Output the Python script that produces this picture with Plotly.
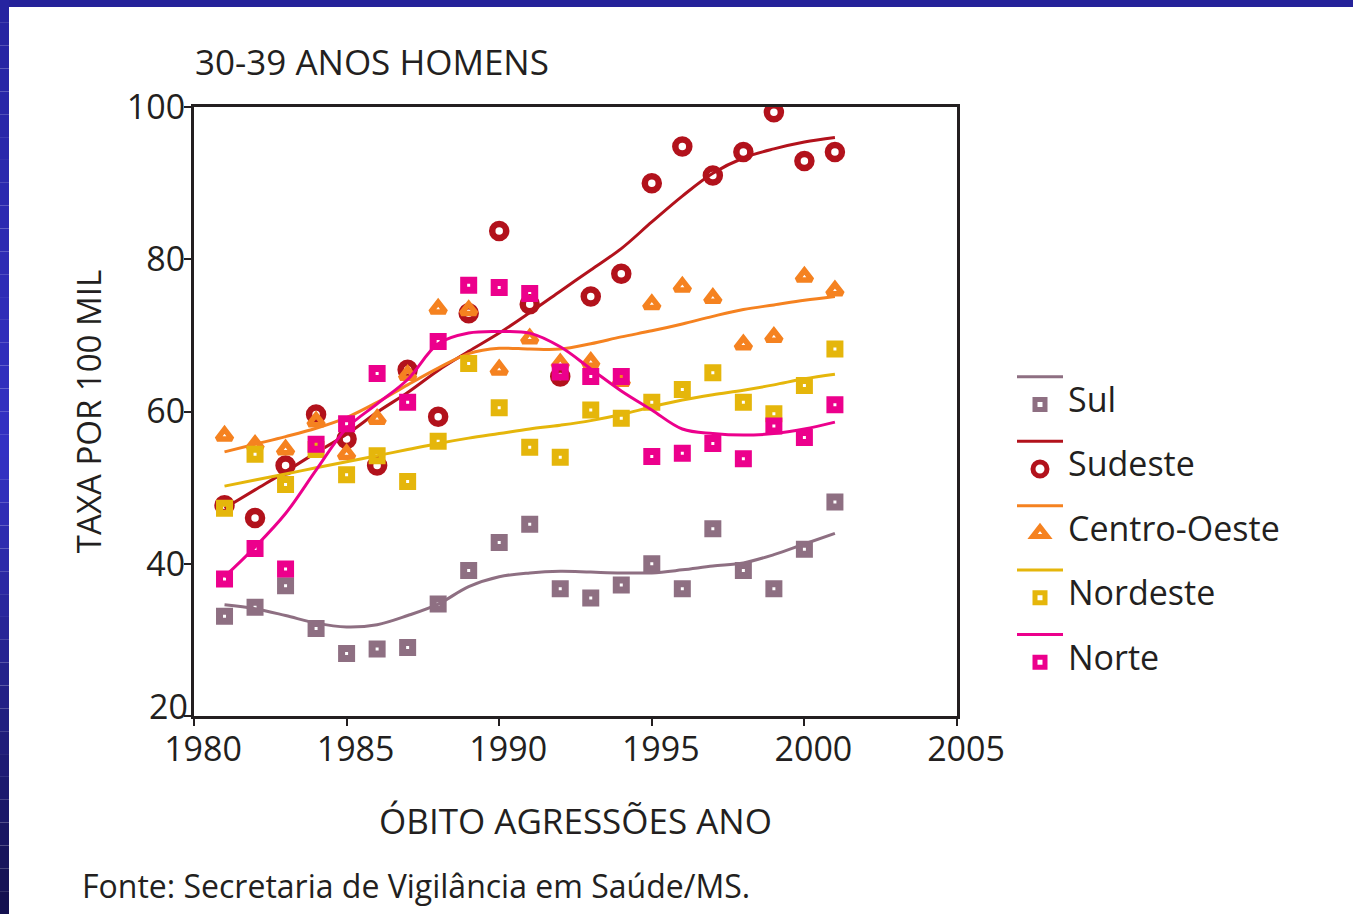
import plotly.graph_objects as go

# ---------------- data ----------------
years = list(range(1981, 2002))

sul_pts = [33.1, 34.3, 37.1, 31.5, 28.2, 28.8, 29.0, 34.7, 39.1, 42.8, 45.2,
           36.7, 35.5, 37.2, 40.0, 36.7, 44.6, 39.1, 36.7, 41.9, 48.1]
sul_fit = [34.6, 34.1, 33.2, 32.2, 31.7, 32.0, 33.2, 34.7, 37.0, 38.3, 38.8,
           39.0, 38.9, 38.8, 38.8, 39.2, 39.7, 40.1, 41.2, 42.6, 44.0]

sudeste_pts = [47.7, 46.0, 52.9, 59.6, 56.4, 52.9, 65.5, 59.3, 72.9, 83.7, 74.1,
               64.6, 75.1, 78.1, 90.0, 94.8, 91.0, 94.1, 99.3, 92.9, 94.1]
sudeste_fit = [47.3, 49.7, 52.1, 54.6, 57.0, 59.9, 62.5, 65.4, 67.9, 70.3, 73.0,
               75.8, 78.6, 81.4, 84.9, 88.3, 91.3, 93.3, 94.5, 95.4, 96.0]

centro_pts = [56.8, 55.6, 55.0, 58.7, 54.4, 59.0, 64.8, 73.5, 73.3, 65.5, 69.6,
              66.3, 66.5, 64.0, 74.1, 76.4, 74.9, 68.8, 69.8, 77.7, 75.9]
centro_fit = [54.7, 55.7, 56.7, 57.8, 59.2, 61.2, 63.5, 65.7, 67.6, 68.3, 68.2,
              68.2, 68.9, 69.8, 70.6, 71.5, 72.5, 73.4, 74.0, 74.6, 75.1]

nordeste_pts = [47.3, 54.4, 50.4, 55.0, 51.7, 54.2, 50.8, 56.1, 66.3, 60.5, 55.3,
                54.0, 60.2, 59.1, 61.2, 62.9, 65.1, 61.2, 59.7, 63.4, 68.2]
nordeste_fit = [50.2, 51.0, 51.8, 52.6, 53.4, 54.2, 55.0, 55.8, 56.5, 57.1, 57.7,
                58.2, 58.8, 59.6, 60.6, 61.5, 62.2, 62.8, 63.5, 64.3, 64.9]

norte_pts = [38.0, 42.0, 39.3, 55.7, 58.4, 65.0, 61.2, 69.2, 76.6, 76.3, 75.5,
             65.2, 64.6, 64.6, 54.1, 54.5, 55.8, 53.8, 58.1, 56.6, 60.9]
norte_fit = [38.3, 42.2, 46.6, 52.3, 57.8, 61.0, 64.2, 68.9, 70.3, 70.5, 70.3,
             68.5, 65.6, 62.7, 60.2, 57.7, 57.1, 56.9, 57.1, 57.7, 58.6]

region_names = ["Sul", "Sudeste", "Centro-Oeste", "Nordeste", "Norte"]
x_ticks = [1980, 1985, 1990, 1995, 2000, 2005]
y_ticks = [20, 40, 60, 80, 100]
y_ticktext = ["", "40", "60", "80", "100"]   # "20" is drawn slightly raised below

# ---------------- style ----------------
TXT = "#231f20"
FONT = "Open Sans"
colors = ["#8e6f82", "#b2121c", "#f58220", "#e5b60b", "#ec008c"]
markers = [
    dict(symbol="square-open", size=10, line=dict(width=7)),
    dict(symbol="circle-open", size=14, line=dict(width=6.5)),
    dict(symbol="triangle-up-open", size=13, line=dict(width=5.5)),
    dict(symbol="square-open", size=10, line=dict(width=7)),
    dict(symbol="square-open", size=10, line=dict(width=7)),
]
points = [sul_pts, sudeste_pts, centro_pts, nordeste_pts, norte_pts]
fits = [sul_fit, sudeste_fit, centro_fit, nordeste_fit, norte_fit]

fig = go.Figure()
for name, col, mk, pts, fit in zip(region_names, colors, markers, points, fits):
    fig.add_trace(go.Scatter(
        x=years, y=fit, mode="lines", name=" ", legendgroup=name,
        line=dict(color=col, width=3, shape="spline", smoothing=1.0),
        hoverinfo="skip"))
    m = dict(mk)
    m["color"] = col
    m["line"] = dict(mk["line"], color=col)
    fig.add_trace(go.Scatter(
        x=years, y=pts, mode="markers", legendgroup=name,
        name=f"<span style='font-size:34px'>{name}</span>",
        marker=m))

# plot area geometry (pixels) used for decorations
L, R, T, B = 194, 957, 107, 716
W, H = 1353, 914
pw, ph = R - L, B - T

def px_x(p):
    return (p - L) / pw

def px_y(p):
    return (B - p) / ph

# blue frame: top bar + left gradient bar
shapes = [dict(type="rect", xref="paper", yref="paper",
               x0=px_x(0), x1=px_x(W), y0=px_y(7), y1=px_y(0),
               fillcolor="#25229a", line=dict(width=0), layer="above")]
top_c = (38, 36, 160)
mid_c = (52, 50, 196)
bot_c = (20, 17, 78)
nseg = 40
for i in range(nseg):
    f = (i + 0.5) / nseg
    if f < 0.5:
        g = f / 0.5
        c = [int(top_c[k] + (mid_c[k] - top_c[k]) * g) for k in range(3)]
    else:
        g = (f - 0.5) / 0.5
        c = [int(mid_c[k] + (bot_c[k] - mid_c[k]) * g) for k in range(3)]
    y0 = H * i / nseg
    y1 = H * (i + 1) / nseg
    shapes.append(dict(type="rect", xref="paper", yref="paper",
                       x0=px_x(0), x1=px_x(9), y0=px_y(y1), y1=px_y(y0),
                       fillcolor=f"rgb({c[0]},{c[1]},{c[2]})",
                       line=dict(width=0), layer="above"))

fig.update_layout(
    width=W, height=H, autosize=False,
    margin=dict(l=L, r=W - R, t=T, b=H - B, pad=0),
    paper_bgcolor="white", plot_bgcolor="white",
    font=dict(family=FONT, color=TXT, size=34),
    title=dict(text="30-39 ANOS HOMENS", x=px_x(195), xref="paper", xanchor="left",
               y=1 - 63 / H, yref="container", yanchor="middle",
               font=dict(size=35, color=TXT, family=FONT)),
    showlegend=True,
    legend=dict(x=px_x(1012), y=px_y(358), xanchor="left", yanchor="top",
                font=dict(size=19, color=TXT, family=FONT),
                itemwidth=46, tracegroupgap=9, bgcolor="rgba(0,0,0,0)",
                traceorder="grouped", itemclick=False, itemdoubleclick=False),
    shapes=shapes,
    annotations=[
        dict(text="Fonte: Secretaria de Vigilância em Saúde/MS.",
             xref="paper", yref="paper", x=px_x(80), y=px_y(886),
             xanchor="left", yanchor="middle", showarrow=False,
             font=dict(size=32, color=TXT, family=FONT)),
        dict(text=str(y_ticks[0]), xref="paper", yref="y", x=0, y=y_ticks[0],
             xanchor="right", yanchor="middle", xshift=-4, yshift=10,
             showarrow=False, font=dict(size=34, color=TXT, family=FONT)),
    ],
)

fig.update_xaxes(
    range=[1980, 2005], tickvals=x_ticks, ticktext=[str(v) for v in x_ticks],
    showline=True, linecolor=TXT, linewidth=3, mirror=True,
    ticks="outside", ticklen=7, tickwidth=2, tickcolor=TXT,
    showgrid=False, zeroline=False, ticklabelshift=9, ticklabelstandoff=-6,
    tickfont=dict(size=34, color=TXT, family=FONT),
    title=dict(text="ÓBITO AGRESSÕES ANO", standoff=40,
               font=dict(size=35, color=TXT, family=FONT)),
)
fig.update_yaxes(
    range=[20, 100], tickvals=y_ticks, ticktext=y_ticktext,
    showline=True, linecolor=TXT, linewidth=3, mirror=True,
    ticks="outside", ticklen=7, tickwidth=2, tickcolor=TXT,
    showgrid=False, zeroline=False, ticklabelstandoff=-8,
    tickfont=dict(size=34, color=TXT, family=FONT),
    title=dict(text="TAXA POR 100 MIL", standoff=16,
               font=dict(size=33, color=TXT, family=FONT)),
)

fig.write_html("out.html", config={"displayModeBar": False},
               post_script="document.body.style.margin='0';")
